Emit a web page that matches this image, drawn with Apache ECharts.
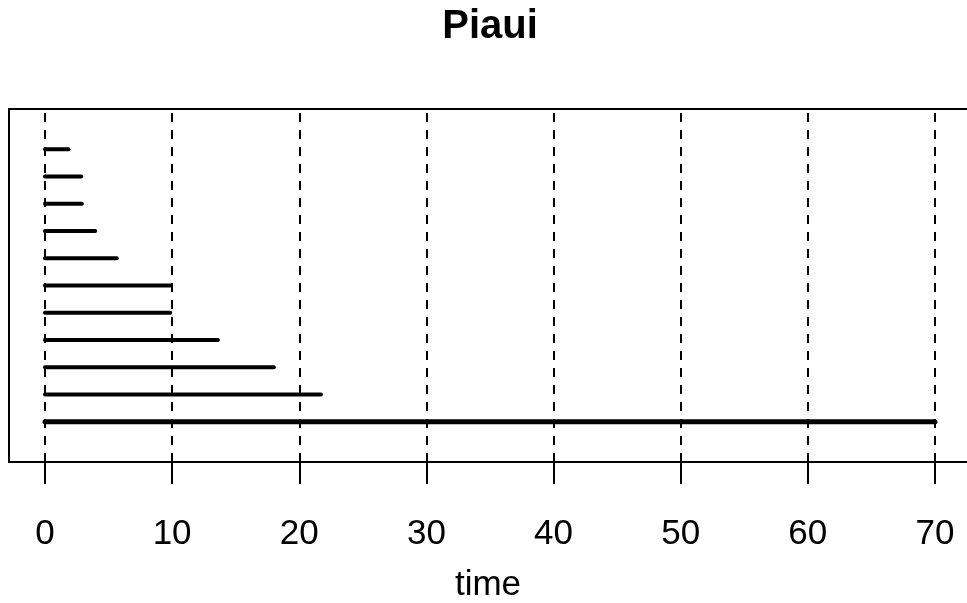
<!DOCTYPE html>
<html>
<head>
<meta charset="utf-8">
<script src="https://cdn.jsdelivr.net/npm/echarts@6/dist/echarts.min.js"></script>
<style>
html,body{margin:0;padding:0;background:#fff;}
#chart{width:967px;height:603px;}
</style>
</head>
<body>
<div id="chart"></div>
<script>
// Data
const titleText = "Piaui";
const axisName = "time";
const tickValues = [0, 10, 20, 30, 40, 50, 60, 70];
// segment rows, from top (row 11) to bottom (row 1)
const rowPositions = [11, 10, 9, 8, 7, 6, 5, 4, 3, 2, 1];
const segmentEnds = [1.85, 2.85, 2.9, 3.95, 5.65, 9.85, 9.85, 13.6, 18.0, 21.7, 70];
const segmentWidths = [4, 4, 4, 4, 4, 4, 4, 4, 4, 4, 5];

const chart = echarts.init(document.getElementById('chart'), null, {renderer: 'canvas'});
const FONT = '"Liberation Sans", Arial, sans-serif';

const series = rowPositions.map((r, i) => ({
  type: 'line',
  data: [[0, r], [segmentEnds[i], r]],
  symbol: 'none',
  silent: true,
  animation: false,
  z: 3,
  lineStyle: {color: '#000', width: segmentWidths[i], cap: 'round'}
}));

series.push({
  type: 'line',
  data: [],
  silent: true,
  animation: false,
  z: 2,
  markLine: {
    symbol: 'none',
    silent: true,
    animation: false,
    label: {show: false},
    lineStyle: {color: '#000', width: 2, type: [9, 8]},
    data: tickValues.map(v => ({xAxis: v}))
  }
});

const axisMin = -2.83, axisMax = 72.52;

chart.setOption({
  animation: false,
  backgroundColor: '#fff',
  title: {
    text: titleText,
    left: 485,
    textAlign: 'center',
    top: 2,
    textStyle: {fontFamily: FONT, fontWeight: 'bold', fontSize: 40, color: '#000'}
  },
  grid: {
    left: 9, top: 109, width: 958, height: 353,
    show: false,
    containLabel: false,
    outerBoundsMode: 'none'
  },
  xAxis: [{
    type: 'value',
    min: axisMin, max: axisMax,
    position: 'bottom',
    name: axisName,
    nameLocation: 'middle',
    nameGap: 106,
    nameTextStyle: {fontFamily: FONT, fontSize: 35, color: '#000'},
    axisLine: {show: true, onZero: false, lineStyle: {color: '#000', width: 2}},
    axisTick: {show: true, customValues: tickValues, length: 22, inside: false, lineStyle: {color: '#000', width: 2}},
    axisLabel: {show: true, customValues: tickValues, margin: 55, fontFamily: FONT, fontSize: 35, color: '#000'},
    splitLine: {show: false}
  }, {
    type: 'value',
    min: axisMin, max: axisMax,
    position: 'top',
    axisLine: {show: true, onZero: false, lineStyle: {color: '#000', width: 2}},
    axisTick: {show: false},
    axisLabel: {show: false},
    splitLine: {show: false}
  }],
  yAxis: {
    type: 'value',
    min: -0.48, max: 12.48,
    position: 'left',
    axisLine: {show: true, onZero: false, lineStyle: {color: '#000', width: 2}},
    axisTick: {show: false},
    axisLabel: {show: false},
    splitLine: {show: false}
  },
  series: series
});
</script>
</body>
</html>
